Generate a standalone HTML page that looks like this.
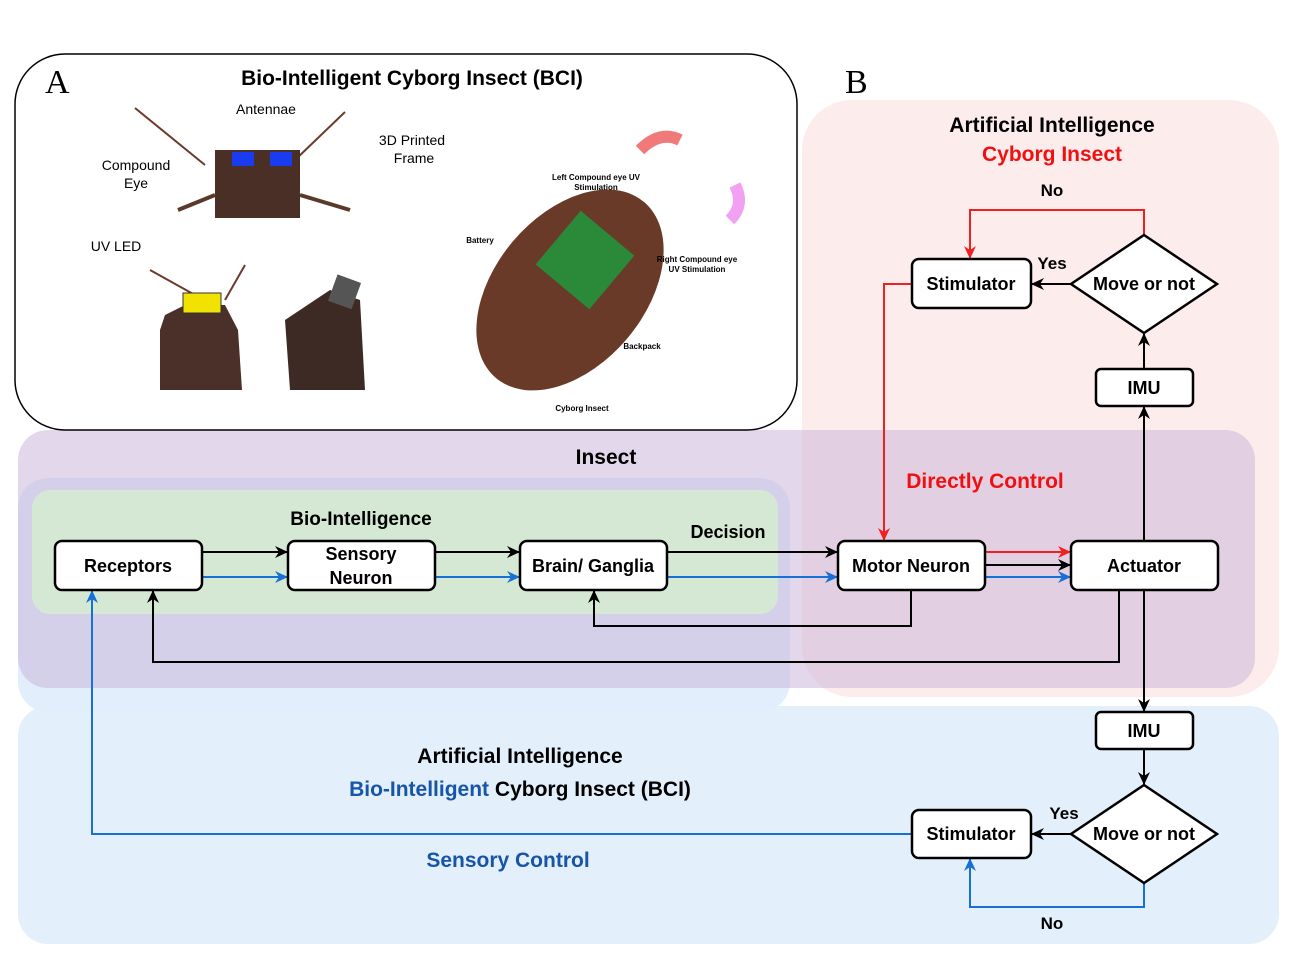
<!DOCTYPE html>
<html><head><meta charset="utf-8"><style>
html,body{margin:0;padding:0;background:#fff}
svg{display:block}
text{font-family:"Liberation Sans",Arial,sans-serif}
text.serif{font-family:"Liberation Serif",serif}
</style></head><body>
<svg width="1299" height="975" viewBox="0 0 1299 975" xmlns="http://www.w3.org/2000/svg">
<defs>
<marker id="ak" markerWidth="13" markerHeight="12" refX="12" refY="6" orient="auto" markerUnits="userSpaceOnUse"><path d="M0,0 L13,6 L0,12 L4,6 z" fill="#000"/></marker>
<marker id="ab" markerWidth="13" markerHeight="12" refX="12" refY="6" orient="auto" markerUnits="userSpaceOnUse"><path d="M0,0 L13,6 L0,12 L4,6 z" fill="#1670d6"/></marker>
<marker id="ar" markerWidth="13" markerHeight="12" refX="12" refY="6" orient="auto" markerUnits="userSpaceOnUse"><path d="M0,0 L13,6 L0,12 L4,6 z" fill="#f02020"/></marker>
</defs>
<rect x="802" y="100" width="477" height="597" rx="50" fill="#fdecec"/>
<rect x="18" y="706" width="1261" height="238" rx="30" fill="#e3effb"/>
<rect x="18" y="478" width="772" height="234" rx="30" fill="#e2eefb"/>
<rect x="18" y="430" width="1237" height="258" rx="30" fill="#c8b2d8" fill-opacity="0.5"/>
<rect x="32" y="490" width="746" height="124" rx="18" fill="#d5e8d4"/>
<rect x="15" y="54" width="782" height="376" rx="50" fill="#fff" stroke="#000" stroke-width="1.5"/>
<text class="serif" x="45" y="93" font-size="34">A</text>
<text class="serif" x="845" y="93" font-size="34">B</text>
<text x="412" y="85" font-size="21" font-weight="bold" text-anchor="middle">Bio-Intelligent Cyborg Insect (BCI)</text>
<text x="266" y="114" font-size="14" text-anchor="middle">Antennae</text>
<text x="136" y="170" font-size="14" text-anchor="middle">Compound</text>
<text x="136" y="188" font-size="14" text-anchor="middle">Eye</text>
<text x="412" y="145" font-size="14" text-anchor="middle">3D Printed</text>
<text x="414" y="163" font-size="14" text-anchor="middle">Frame</text>
<text x="116" y="251" font-size="14" text-anchor="middle">UV LED</text>
<path d="M135,108 L205,165 M345,112 L295,160" stroke="#6b3a2a" stroke-width="2" fill="none"/>
<path d="M215,150 L300,150 L300,218 L215,218 z" fill="#4a2f26"/>
<rect x="232" y="152" width="22" height="14" fill="#1a3cf0"/><rect x="270" y="152" width="22" height="14" fill="#1a3cf0"/>
<path d="M178,210 L215,195 M300,195 L350,210" stroke="#5a3a2a" stroke-width="4"/>
<path d="M150,270 L195,295 M245,265 L225,300" stroke="#6b3a2a" stroke-width="2"/>
<path d="M165,315 L185,305 L225,305 L238,330 L242,390 L160,390 L160,330 z" fill="#4a3028"/>
<rect x="183" y="293" width="38" height="20" fill="#f1e200" stroke="#333"/>
<path d="M290,390 L285,320 L330,290 L360,300 L365,390 z" fill="#3e2a24"/>
<rect x="332" y="278" width="25" height="28" fill="#555" transform="rotate(20 345 292)"/>
<ellipse cx="570" cy="290" rx="75" ry="115" transform="rotate(40 570 290)" fill="#6a3a28"/>
<rect x="550" y="225" width="70" height="70" fill="#2a8a3a" transform="rotate(40 585 260)"/>
<path d="M640,150 Q660,130 680,140" stroke="#f07a7a" stroke-width="12" fill="none"/>
<path d="M735,185 Q745,205 730,220" stroke="#f2a0f2" stroke-width="12" fill="none"/>
<g font-size="8" font-weight="bold">
<text x="596" y="180" text-anchor="middle">Left Compound eye UV</text>
<text x="596" y="190" text-anchor="middle">Stimulation</text>
<text x="480" y="243" text-anchor="middle">Battery</text>
<text x="697" y="262" text-anchor="middle">Right Compound eye</text>
<text x="697" y="272" text-anchor="middle">UV Stimulation</text>
<text x="642" y="349" text-anchor="middle">Backpack</text>
<text x="582" y="411" text-anchor="middle">Cyborg Insect</text>
</g>
<text x="1052" y="132" font-size="21" font-weight="bold" text-anchor="middle">Artificial Intelligence</text>
<text x="1052" y="161" font-size="21" font-weight="bold" text-anchor="middle" fill="#f01010">Cyborg Insect</text>
<text x="606" y="464" font-size="21" font-weight="bold" text-anchor="middle">Insect</text>
<text x="985" y="488" font-size="21" font-weight="bold" text-anchor="middle" fill="#f01010">Directly Control</text>
<text x="361" y="525" font-size="19" font-weight="bold" text-anchor="middle">Bio-Intelligence</text>
<text x="728" y="538" font-size="18" font-weight="bold" text-anchor="middle">Decision</text>
<text x="520" y="763" font-size="21" font-weight="bold" text-anchor="middle">Artificial Intelligence</text>
<text x="520" y="796" font-size="21" font-weight="bold" text-anchor="middle"><tspan fill="#1655a8">Bio-Intelligent</tspan> Cyborg Insect (BCI)</text>
<text x="508" y="867" font-size="21" font-weight="bold" text-anchor="middle" fill="#1655a8">Sensory Control</text>
<text x="1052" y="196" font-size="17" font-weight="bold" text-anchor="middle">No</text>
<text x="1052" y="269" font-size="17" font-weight="bold" text-anchor="middle">Yes</text>
<text x="1064" y="819" font-size="17" font-weight="bold" text-anchor="middle">Yes</text>
<text x="1052" y="929" font-size="17" font-weight="bold" text-anchor="middle">No</text>
<g fill="none" stroke-width="2">
<path d="M202,552 H287" stroke="#000" marker-end="url(#ak)"/>
<path d="M202,577 H287" stroke="#1670d6" marker-end="url(#ab)"/>
<path d="M435,552 H519" stroke="#000" marker-end="url(#ak)"/>
<path d="M435,577 H519" stroke="#1670d6" marker-end="url(#ab)"/>
<path d="M667,552 H837" stroke="#000" marker-end="url(#ak)"/>
<path d="M667,577 H837" stroke="#1670d6" marker-end="url(#ab)"/>
<path d="M985,552 H1070" stroke="#f02020" marker-end="url(#ar)"/>
<path d="M985,565 H1070" stroke="#000" marker-end="url(#ak)"/>
<path d="M985,577 H1070" stroke="#1670d6" marker-end="url(#ab)"/>
<path d="M911,590 V626 H594 V591" stroke="#000" marker-end="url(#ak)"/>
<path d="M1119,590 V662 H153 V591" stroke="#000" marker-end="url(#ak)"/>
<path d="M1144,541 V407" stroke="#000" marker-end="url(#ak)"/>
<path d="M1144,369 V334" stroke="#000" marker-end="url(#ak)"/>
<path d="M1144,235 V210 H970 V258" stroke="#f02020" marker-end="url(#ar)"/>
<path d="M1071,284 H1032" stroke="#000" marker-end="url(#ak)"/>
<path d="M912,284 H884 V540" stroke="#f02020" marker-end="url(#ar)"/>
<path d="M1144,590 V711" stroke="#000" marker-end="url(#ak)"/>
<path d="M1144,749 V784" stroke="#000" marker-end="url(#ak)"/>
<path d="M1071,834 H1032" stroke="#000" marker-end="url(#ak)"/>
<path d="M912,834 H92 V591" stroke="#1670d6" marker-end="url(#ab)"/>
<path d="M1144,883 V907 H970 V859" stroke="#1670d6" marker-end="url(#ab)"/>
</g>
<g stroke="#000" stroke-width="2.5" fill="#fff">
<rect x="55" y="541" width="147" height="49" rx="7"/>
<rect x="288" y="541" width="147" height="49" rx="7"/>
<rect x="520" y="541" width="147" height="49" rx="7"/>
<rect x="838" y="541" width="147" height="49" rx="7"/>
<rect x="1071" y="541" width="147" height="49" rx="7"/>
<rect x="912" y="259" width="119" height="49" rx="7"/>
<rect x="1096" y="369" width="97" height="37" rx="5"/>
<rect x="1096" y="712" width="97" height="37" rx="5"/>
<rect x="912" y="810" width="119" height="48" rx="7"/>
<path d="M1144,235 L1217,284 L1144,333 L1071,284 z"/>
<path d="M1144,785 L1217,834 L1144,883 L1071,834 z"/>
</g>
<g font-size="18" font-weight="bold" text-anchor="middle">
<text x="128" y="572">Receptors</text>
<text x="361" y="560">Sensory</text>
<text x="361" y="584">Neuron</text>
<text x="593" y="572">Brain/ Ganglia</text>
<text x="911" y="572">Motor Neuron</text>
<text x="1144" y="572">Actuator</text>
<text x="971" y="290">Stimulator</text>
<text x="1144" y="290">Move or not</text>
<text x="1144" y="394">IMU</text>
<text x="1144" y="737">IMU</text>
<text x="971" y="840">Stimulator</text>
<text x="1144" y="840">Move or not</text>
</g>
</svg>
</body></html>
